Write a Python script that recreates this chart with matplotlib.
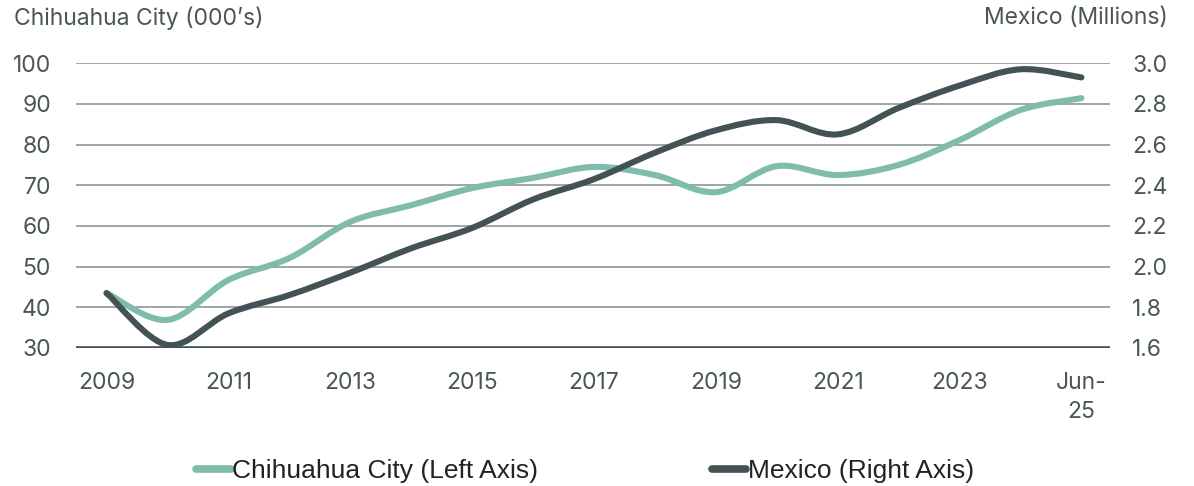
import matplotlib
matplotlib.use('Agg')
import matplotlib.pyplot as plt
from matplotlib.path import Path
from matplotlib.patches import PathPatch
from matplotlib.lines import Line2D
import numpy as np

# data
labels = ['2009', '2010', '2011', '2012', '2013', '2014', '2015', '2016', '2017',
          '2018', '2019', '2020', '2021', '2022', '2023', '2024', 'Jun-\n25']
chihuahua = [43.5, 36.9, 46.7, 52.1, 61.0, 65.1, 69.3, 71.8, 74.5,
             72.5, 68.3, 74.7, 72.5, 75.0, 81.1, 88.5, 91.4]
mexico = [1.87, 1.615, 1.77, 1.86, 1.97, 2.09, 2.19, 2.33, 2.43,
          2.56, 2.67, 2.72, 2.65, 2.78, 2.89, 2.97, 2.93]

teal = '#7fbcab'
dark = '#435254'
txt = '#4a5656'
grid = '#8c9696'

plt.rcParams['font.family'] = ['Inter', 'DejaVu Sans']


def smooth_path(x, y, t=0.5):
    # catmull-rom style bezier through the data points (like Excel smoothed lines)
    x = np.asarray(x, float)
    y = np.asarray(y, float)
    n = len(x)
    verts = [(x[0], y[0])]
    codes = [Path.MOVETO]
    for i in range(n - 1):
        p0 = i - 1 if i > 0 else i
        p3 = i + 2 if i + 2 < n else i + 1
        c1 = (x[i] + (x[i + 1] - x[p0]) * t / 3, y[i] + (y[i + 1] - y[p0]) * t / 3)
        c2 = (x[i + 1] - (x[p3] - x[i]) * t / 3, y[i + 1] - (y[p3] - y[i]) * t / 3)
        verts += [c1, c2, (x[i + 1], y[i + 1])]
        codes += [Path.CURVE4] * 3
    return Path(verts, codes)


fig = plt.figure(figsize=(11.94, 4.86), dpi=100)
ax = fig.add_axes([0.0637, 0.284, 0.866, 0.586])
ax2 = ax.twinx()

xs = np.arange(len(labels))

ax.set_xlim(-0.5, 16.47)
ax.set_ylim(30, 100)
ax2.set_ylim(1.6, 3.0)

ax.set_yticks(range(30, 101, 10))
ax2.set_yticks(np.arange(1.6, 3.01, 0.2))
ax2.set_yticklabels([f'{v:.1f}' for v in np.arange(1.6, 3.01, 0.2)])
ax.set_xticks(xs[::2])
ax.set_xticklabels(labels[::2], linespacing=1.45)

for a in (ax, ax2):
    for s in a.spines.values():
        s.set_visible(False)
    a.tick_params(length=0, labelsize=16.5, colors=txt)
ax.tick_params(axis='y', pad=18)
ax2.tick_params(axis='y', pad=16)
ax.tick_params(axis='x', pad=17)

for v in range(40, 101, 10):
    ax.axhline(v, color=grid, lw=1.2, zorder=1)
ax.axhline(30, color=dark, lw=2.6, zorder=1)

ax.add_patch(PathPatch(smooth_path(xs, chihuahua), fill=False, edgecolor=teal,
                       lw=4.4, capstyle='round', joinstyle='round', zorder=3))
ax2.add_patch(PathPatch(smooth_path(xs, mexico), fill=False, edgecolor=dark,
                        lw=4.4, capstyle='round', joinstyle='round', zorder=4))

fig.text(0.012, 0.962, 'Chihuahua City (000\u2019s)', fontsize=16.5, color=txt, va='center')
fig.text(0.978, 0.962, 'Mexico (Millions)', fontsize=16.5, color=txt, va='center', ha='right')

handles = [Line2D([], [], color=teal, lw=5.5, solid_capstyle='round'),
           Line2D([], [], color=dark, lw=5.5, solid_capstyle='round')]
fig.legend(handles, ['Chihuahua City (Left Axis)', 'Mexico (Right Axis)'],
           loc='center', bbox_to_anchor=(0.49, 0.03), ncol=2, frameon=False,
           handlelength=1.3, handletextpad=0.05, columnspacing=6.6,
           prop={'family': ['Liberation Sans Narrow', 'Liberation Sans'], 'size': 19},
           labelcolor='#222222')

fig.savefig('out.png', dpi=100)
